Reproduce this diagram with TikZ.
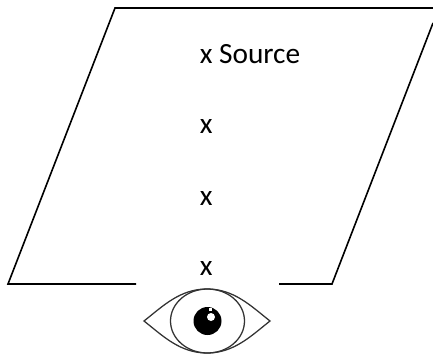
\documentclass[tikz,border=0pt]{standalone}
\usepackage{fontspec}
\setmainfont{Carlito}
\usetikzlibrary{positioning}

\begin{document}
\begin{tikzpicture}[
    x=0.75pt, y=-0.75pt,
    mark label/.style={font=\fontsize{22pt}{26pt}\selectfont, inner sep=0pt, text=black},
    edge line/.style={line width=1.2pt, color=black},
    eye line/.style={line width=0.95pt, color=black!80},
]
    \useasboundingbox (0,0) rectangle (433,358);

    % Aperture outline
    \draw[edge line] (136,284) -- (8,284) -- (115,8) -- (433,8);
    \draw[edge line] (279,284) -- (332,284) -- (433,23);

    % Labels
    \node[mark label, anchor=base west] (source) at (199.5,63) {x Source};
    \node[mark label, anchor=base west] (x1) at (199.5,133.5) {x};
    \node[mark label, anchor=base west] (x2) at (199.5,205.5) {x};
    \node[mark label, anchor=base west] (x3) at (199.5,275.5) {x};

    % Eye
    \draw[eye line] (144,321) .. controls (163,306) and (180,289) .. (207,289)
        .. controls (234,289) and (251,306) .. (270,321)
        .. controls (251,336) and (234,353) .. (207,353)
        .. controls (180,353) and (163,336) .. (144,321) -- cycle;
    \draw[eye line] (207.5,321) ellipse (37 and 32);
    \fill[black] (207.5,321) circle (14);
    \fill[white] (211,317) circle (4);
    \fill[white] (209,307.5) rectangle (212,311);
\end{tikzpicture}
\end{document}
